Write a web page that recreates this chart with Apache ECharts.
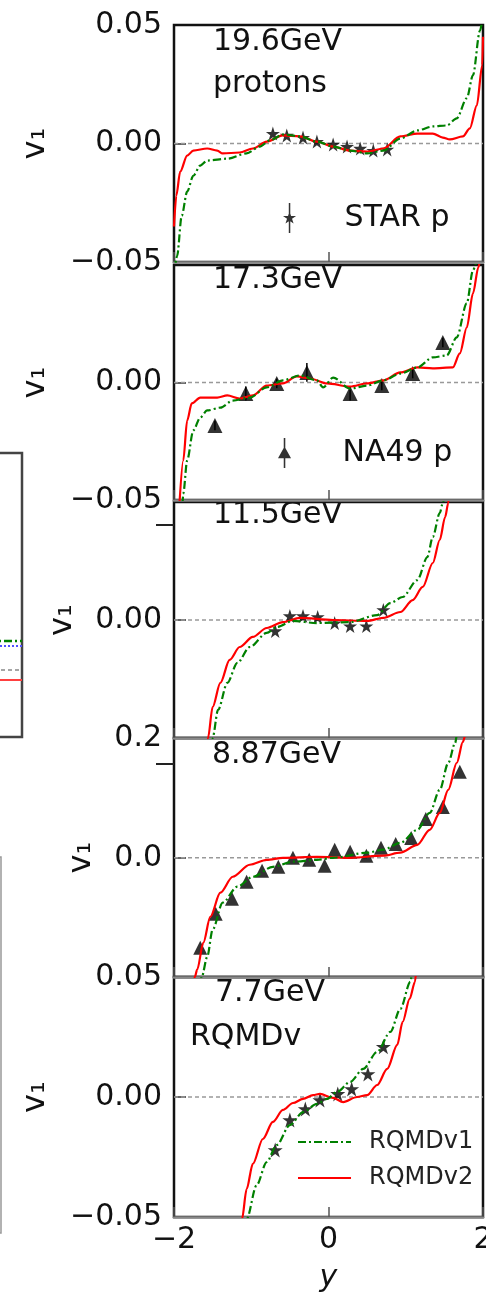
<!DOCTYPE html>
<html>
<head>
<meta charset="utf-8">
<script src="https://cdn.jsdelivr.net/npm/echarts@6/dist/echarts.min.js"></script>
<style>
html, body { margin: 0; padding: 0; background: #fff; }
#main { width: 486px; height: 1293px; }
</style>
</head>
<body>
<div id="main"></div>
<script>
// panel labels
var energies = ['19.6GeV', '17.3GeV', '11.5GeV', '8.87GeV', '7.7GeV'];

// 19.6 GeV
var red196 = [[-2.0,-0.035],[-1.97,-0.022],[-1.92,-0.0119],[-1.83,-0.0051],[-1.75,-0.0030],[-1.57,-0.0021],[-1.44,-0.0030],[-1.37,-0.0042],[-1.15,-0.0038],[-0.98,-0.0021],[-0.80,0.0008],[-0.59,0.0034],[-0.37,0.0030],[-0.15,0.0008],[0.06,-0.0013],[0.28,-0.0030],[0.50,-0.0034],[0.71,-0.0021],[0.93,0.0030],[1.15,0.0042],[1.35,0.0042],[1.48,0.0025],[1.57,0.0017],[1.74,0.0030],[1.83,0.0064],[1.92,0.0161],[1.99,0.033],[2.0,0.045]];
var green196 = [[-2.0,-0.055],[-1.96,-0.0475],[-1.90,-0.0305],[-1.83,-0.0203],[-1.75,-0.0136],[-1.66,-0.0093],[-1.57,-0.0072],[-1.31,-0.0064],[-1.06,-0.0042],[-0.89,-0.0013],[-0.76,0.0013],[-0.59,0.0038],[-0.37,0.0030],[-0.15,0.0008],[0.06,-0.0013],[0.28,-0.0030],[0.50,-0.0042],[0.71,-0.0030],[0.93,0.0021],[1.15,0.0055],[1.35,0.0072],[1.53,0.0076],[1.66,0.0106],[1.79,0.0191],[1.87,0.0288],[1.96,0.0475],[1.99,0.052]];
var star196x = [-0.72,-0.54,-0.33,-0.15,0.06,0.24,0.41,0.58,0.76];
var star196y = [0.0042,0.0034,0.0025,0.0008,-0.0004,-0.0013,-0.0021,-0.0030,-0.0025];

// 17.3 GeV
var red173 = [[-1.93,-0.052],[-1.88,-0.0332],[-1.83,-0.0162],[-1.77,-0.0089],[-1.66,-0.0064],[-1.44,-0.0064],[-1.31,-0.0055],[-1.15,-0.0068],[-0.98,-0.0055],[-0.80,-0.0013],[-0.59,-0.0004],[-0.41,0.0026],[-0.24,0.0017],[-0.02,-0.0004],[0.28,-0.0017],[0.50,-0.0004],[0.71,0.0009],[0.93,0.0043],[1.15,0.0064],[1.35,0.0060],[1.61,0.0064],[1.70,0.0124],[1.79,0.0234],[1.87,0.0379],[1.94,0.0490],[1.96,0.052]];
var green173 = [[-1.89,-0.052],[-1.88,-0.0473],[-1.83,-0.0332],[-1.75,-0.0204],[-1.66,-0.0149],[-1.57,-0.0119],[-1.40,-0.0107],[-1.24,-0.0077],[-1.02,-0.0064],[-0.80,-0.0021],[-0.59,0.0009],[-0.37,0.0030],[-0.15,0.0009],[-0.07,-0.0021],[0.06,0.0021],[0.28,-0.0026],[0.50,-0.0013],[0.71,0.0009],[0.93,0.0038],[1.15,0.0064],[1.35,0.0107],[1.53,0.0115],[1.66,0.0192],[1.79,0.0337],[1.87,0.0477],[1.91,0.0511]];
var tri173x = [-1.47,-1.07,-0.67,-0.28,0.28,0.69,1.09,1.48];
var tri173y = [-0.0183,-0.0047,-0.0004,0.0043,-0.0047,-0.0013,0.0038,0.0170];
var tri173err = [0.002,0.003,0.002,0.004,0.003,0.002,0.002,0.002];

// 11.5 GeV
var red115 = [[-1.57,-0.066],[-1.56,-0.0621],[-1.50,-0.0458],[-1.40,-0.0331],[-1.28,-0.0210],[-1.15,-0.0142],[-0.98,-0.0089],[-0.80,-0.0042],[-0.59,-0.0011],[-0.37,0.0011],[0.06,0.0],[0.50,-0.0005],[0.71,0.0011],[0.93,0.0042],[1.09,0.0105],[1.22,0.0174],[1.35,0.0300],[1.44,0.0421],[1.51,0.0542],[1.55,0.0615],[1.56,0.066]];
var green115 = [[-1.51,-0.066],[-1.50,-0.0621],[-1.43,-0.0473],[-1.31,-0.0331],[-1.18,-0.0226],[-1.02,-0.0142],[-0.80,-0.0068],[-0.67,-0.0037],[-0.46,-0.0005],[-0.15,-0.0016],[0.28,-0.0011],[0.63,0.0026],[0.80,0.0089],[0.96,0.0121],[1.15,0.0210],[1.28,0.0331],[1.35,0.0437],[1.44,0.0563],[1.48,0.0615],[1.50,0.066]];
var star115x = [-0.69,-0.50,-0.33,-0.14,0.08,0.28,0.49,0.71];
var star115y = [-0.0058,0.0021,0.0021,0.0016,-0.0016,-0.0032,-0.0032,0.0053];

// 8.87 GeV
var red887 = [[-1.75,-0.068],[-1.73,-0.0633],[-1.70,-0.0596],[-1.62,-0.0452],[-1.53,-0.0314],[-1.40,-0.0186],[-1.24,-0.0101],[-1.02,-0.0037],[-0.80,-0.0011],[-0.59,0.0],[-0.15,0.0005],[0.28,0.0],[0.71,0.0011],[0.93,0.0027],[1.15,0.0069],[1.31,0.0149],[1.44,0.0239],[1.55,0.0362],[1.66,0.0505],[1.74,0.0617],[1.77,0.066]];
var green887 = [[-1.66,-0.068],[-1.64,-0.0633],[-1.57,-0.0527],[-1.50,-0.0383],[-1.37,-0.0239],[-1.18,-0.0154],[-0.98,-0.0101],[-0.72,-0.0048],[-0.46,-0.0021],[-0.15,-0.0011],[0.06,0.0],[0.50,0.0027],[0.71,0.0043],[0.93,0.0080],[1.15,0.0149],[1.31,0.0239],[1.44,0.0362],[1.55,0.0505],[1.64,0.0612],[1.66,0.066]];
var tri887x = [-1.66,-1.46,-1.25,-1.06,-0.86,-0.65,-0.46,-0.25,-0.05,0.08,0.28,0.49,0.68,0.87,1.07,1.26,1.48,1.70];
var tri887y = [-0.0479,-0.0298,-0.0218,-0.0128,-0.0069,-0.0048,0.0,-0.0011,-0.0043,0.0043,0.0032,0.0011,0.0053,0.0074,0.0106,0.0207,0.0271,0.0458];

// 7.7 GeV
var red77 = [[-1.13,-0.055],[-1.12,-0.0509],[-1.06,-0.0384],[-0.98,-0.0279],[-0.85,-0.0175],[-0.72,-0.0104],[-0.59,-0.0054],[-0.46,-0.0025],[-0.33,-0.0008],[-0.20,0.0008],[-0.11,0.0013],[0.06,-0.0004],[0.19,-0.0021],[0.37,0.0],[0.50,0.0008],[0.63,0.0050],[0.76,0.0117],[0.89,0.0217],[0.96,0.0313],[1.05,0.0409],[1.12,0.0480],[1.14,0.055]];
var green77 = [[-1.08,-0.055],[-1.06,-0.0509],[-0.93,-0.0367],[-0.80,-0.0271],[-0.67,-0.0200],[-0.50,-0.0117],[-0.33,-0.0063],[-0.15,-0.0029],[-0.02,-0.0008],[0.11,0.0021],[0.28,0.0063],[0.45,0.0117],[0.63,0.0188],[0.80,0.0271],[0.93,0.0367],[1.06,0.0480],[1.09,0.055]];
var star77x = [-0.69,-0.50,-0.30,-0.11,0.12,0.30,0.51,0.71];
var star77y = [-0.0221,-0.0096,-0.0050,-0.0013,0.0013,0.0033,0.0096,0.0209];

// dashed reference line at v1 = 0
var zeroLine = [[-2, 0], [2, 0]];

// y axis ranges and tick labels per panel
var yRanges = [[-0.05,0.05],[-0.05,0.05],[-0.0621,0.0621],[-0.0635,0.0638],[-0.05,0.05]];
var yLabelVals = [[-0.05,0,0.05],[-0.05,0],[-0.0621,0],[0],[-0.05,0,0.05]];
var yLabelText = [['\u22120.05','0.00','0.05'],['\u22120.05','0.00'],['0.2','0.00'],['0.0'],['\u22120.05','0.00','0.05']];

// pieces of the neighbouring plot seen at the left edge
var leftLines = [0.338, 0.320, 0.236, 0.201];

var FONT = '"DejaVu Sans", sans-serif';
var STAR = 'path://M0,-1 L0.2245,-0.309 L0.951,-0.309 L0.363,0.118 L0.588,0.809 L0,0.382 L-0.588,0.809 L-0.363,0.118 L-0.951,-0.309 L-0.2245,-0.309 Z';
var STARBAR = 'path://M-0.12,-2.4 L0.12,-2.4 L0.12,2.4 L-0.12,2.4 Z M0,-1.1 L0.247,-0.34 L1.046,-0.34 L0.4,0.13 L0.647,0.89 L0,0.42 L-0.647,0.89 L-0.4,0.13 L-1.046,-0.34 L-0.247,-0.34 Z';
var TRIBAR = 'path://M-0.12,-2.3 L0.12,-2.3 L0.12,2.3 L-0.12,2.3 Z M0,-1 L1,0.8 L-1,0.8 Z';

var chart = echarts.init(document.getElementById('main'));

var tops = [25, 265, 502, 738, 977];
var heights = [237, 235, 236, 239, 240];
var nameGaps = [122, 122, 95, 76, 122];

var reds = [red196, red173, red115, red887, red77];
var greens = [green196, green173, green115, green887, green77];
var pts = [[star196x, star196y], [tri173x, tri173y], [star115x, star115y], [tri887x, tri887y], [star77x, star77y]];
var ptNames = ['STAR p', 'NA49 p', 'STAR 11.5', 'NA49 8.87', 'STAR 7.7'];
var ptSymbols = [STAR, 'triangle', STAR, 'triangle', STAR];
var ptSizes = [14, 15, 14, 14, 15];

function zip(xs, ys) {
    return xs.map(function (x, k) { return [x, ys[k]]; });
}

var grids = [], xAxes = [], yAxes = [], series = [];

for (var i = 0; i < 5; i++) {
    grids.push({
        left: 174, top: tops[i], width: 309, height: heights[i], outerBoundsMode: 'none',
        show: true, borderColor: '#111', borderWidth: 2.5, backgroundColor: 'transparent'
    });
    xAxes.push({
        gridIndex: i, type: 'value', min: -2, max: 2, interval: 2, z: 1,
        axisLine: { show: true, onZero: false, lineStyle: { color: '#888', width: 2.5 } },
        axisTick: { show: true, inside: true, length: 10, lineStyle: { color: '#555', width: 1.5 } },
        axisLabel: {
            show: i === 4, fontSize: 30, fontFamily: FONT, color: '#111', margin: 8,
            formatter: function (v) { return v < 0 ? '\u2212' + (-v) : String(v); }
        },
        splitLine: { show: false },
        name: i === 4 ? 'y' : '',
        nameLocation: 'middle', nameGap: 46,
        nameTextStyle: { fontSize: 30, fontFamily: FONT, fontStyle: 'italic', color: '#111' }
    });
    (function (idx) {
        yAxes.push({
            gridIndex: idx, type: 'value', min: yRanges[idx][0], max: yRanges[idx][1], position: 'left',
            axisLine: { show: false, onZero: false },
            axisTick: { show: true, inside: true, length: 12, customValues: [0], lineStyle: { color: '#333', width: 1.5 } },
            axisLabel: {
                customValues: yLabelVals[idx], fontSize: 30, fontFamily: FONT, color: '#111', margin: 12,
                formatter: function (v) {
                    for (var k = 0; k < yLabelVals[idx].length; k++) {
                        if (Math.abs(yLabelVals[idx][k] - v) < 1e-9) return yLabelText[idx][k];
                    }
                    return '';
                }
            },
            splitLine: { show: false },
            name: 'v\u2081', nameLocation: 'middle', nameRotate: 90, nameGap: nameGaps[idx],
            nameTextStyle: { fontSize: 32, fontFamily: FONT, color: '#111' }
        });
    })(i);
    var yIdx = yAxes.length - 1;
    if (i === 2 || i === 3) {
        // lone outward tick on the left of the 11.5 and 8.87 panels
        yAxes.push({
            gridIndex: i, type: 'value', min: yRanges[i][0], max: yRanges[i][1], position: 'left',
            axisLine: { show: false, onZero: false }, axisLabel: { show: false }, splitLine: { show: false },
            axisTick: { show: true, inside: false, length: 18, customValues: [0.05], lineStyle: { color: '#222', width: 2 } }
        });
    }

    series.push({
        name: 'zero' + i, type: 'line', xAxisIndex: i, yAxisIndex: yIdx, silent: true,
        data: zeroLine, symbol: 'none', z: 1,
        lineStyle: { color: '#999', width: 1.5, type: [4, 3] }
    });
    series.push({
        name: ptNames[i], type: 'scatter', xAxisIndex: i, yAxisIndex: yIdx,
        symbol: ptSymbols[i], symbolSize: ptSizes[i], itemStyle: { color: '#000' }, z: 2,
        data: zip(pts[i][0], pts[i][1])
    });
    series.push({
        name: 'RQMDv2', type: 'line', xAxisIndex: i, yAxisIndex: yIdx,
        data: reds[i], symbol: 'none', smooth: 0.3, smoothMonotone: 'x', z: 3,
        lineStyle: { color: '#ff0000', width: 2.2 }, itemStyle: { color: '#ff0000' }
    });
    series.push({
        name: 'RQMDv1', type: 'line', xAxisIndex: i, yAxisIndex: yIdx,
        data: greens[i], symbol: 'none', smooth: 0.3, smoothMonotone: 'x', z: 4,
        lineStyle: { color: '#008000', width: 2.2, type: [8, 3, 2, 3] }, itemStyle: { color: '#008000' }
    });
    if (i === 1) {
        series.push({
            name: 'NA49 err', type: 'custom', xAxisIndex: i, yAxisIndex: yIdx, z: 2,
            data: tri173x.map(function (x, k) { return [x, tri173y[k] - tri173err[k], tri173y[k] + tri173err[k]]; }),
            renderItem: function (params, api) {
                var a = api.coord([api.value(0), api.value(2)]);
                var b = api.coord([api.value(0), api.value(1)]);
                return { type: 'line', shape: { x1: a[0], y1: a[1], x2: b[0], y2: b[1] }, style: { stroke: '#000', lineWidth: 1.5 } };
            }
        });
    }
}

// partial neighbour frames at the left edge
grids.push({ left: -300, top: 453, width: 322, height: 284, outerBoundsMode: 'none', show: true, borderColor: '#444', borderWidth: 2.5 });
grids.push({ left: -300, top: 857, width: 301, height: 376, outerBoundsMode: 'none', show: true, borderColor: '#999', borderWidth: 1.5 });
[5, 6].forEach(function (g) {
    xAxes.push({ gridIndex: g, type: 'value', min: 0, max: 1, show: false });
    yAxes.push({ gridIndex: g, type: 'value', min: 0, max: 1, show: false });
});
var leftStyles = [
    { color: '#008000', width: 2.5, type: [8, 3, 2, 3] },
    { color: '#5050ff', width: 2, type: 'dotted' },
    { color: '#888', width: 1.5, type: [4, 3] },
    { color: '#ff4040', width: 2, type: 'solid' }
];
leftLines.forEach(function (v, k) {
    series.push({
        name: 'edge' + k, type: 'line', xAxisIndex: 5, yAxisIndex: yAxes.length - 2,
        data: [[0, v], [1, v]], symbol: 'none', lineStyle: leftStyles[k], silent: true
    });
});

var textStyle30 = { fontSize: 30, fontFamily: FONT, color: '#111' };

function label(txt, x, y, size) {
    return {
        type: 'text', x: x, y: y, silent: true,
        style: { text: txt, fontSize: size || 30, fontFamily: FONT, fill: '#111', verticalAlign: 'middle' }
    };
}

var option = {
    animation: false,
    backgroundColor: '#fff',
    grid: grids,
    xAxis: xAxes,
    yAxis: yAxes,
    legend: [
        {
            // legend box is aligned on the drawn icon, so left is the icon's left edge
            data: [{ name: 'STAR p', icon: STARBAR }], left: 283, top: 203, itemWidth: 100, itemHeight: 30,
            selectedMode: false, padding: 0, textStyle: textStyle30
        },
        {
            data: [{ name: 'NA49 p', icon: TRIBAR }], left: 278, top: 438, itemWidth: 106, itemHeight: 30,
            selectedMode: false, padding: 0, textStyle: textStyle30
        },
        {
            data: ['RQMDv1', 'RQMDv2'], orient: 'vertical', left: 297, top: 1130, itemWidth: 53, itemHeight: 14,
            itemGap: 12, selectedMode: false, padding: 0, itemStyle: { opacity: 0 },
            textStyle: { fontSize: 24, fontFamily: FONT, color: '#222', padding: [0, 0, 0, 13] }
        }
    ],
    graphic: [
        label(energies[0], 213, 42),
        label('protons', 213, 84),
        label(energies[1], 213, 280),
        label(energies[2], 213, 515),
        label(energies[3], 212, 755),
        label(energies[4], 215, 993),
        label('RQMDv', 190, 1037)
    ],
    series: series
};

chart.setOption(option);
</script>
</body>
</html>
